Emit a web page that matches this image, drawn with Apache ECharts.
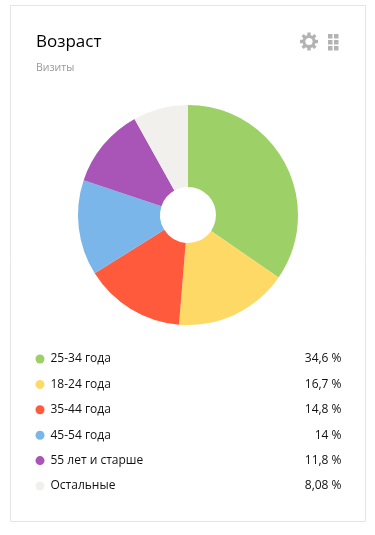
<!DOCTYPE html>
<html>
<head>
<meta charset="utf-8">
<style>html,body{margin:0;padding:0;background:#fff}#c{width:375px;height:535px}</style>
<script src="https://cdn.jsdelivr.net/npm/echarts@6/dist/echarts.min.js"></script>
</head>
<body>
<div id="c"></div>
<script>
const categories = ['25-34 года','18-24 года','35-44 года','45-54 года','55 лет и старше','Остальные'];
const values = [34.6,16.7,14.8,14,11.8,8.08];
const valueLabels = ['34,6 %','16,7 %','14,8 %','14 %','11,8 %','8,08 %'];
const colors = ['#9dd066','#ffd966','#ff5a3c','#7ab6e9','#a955b8','#f1f0ed'];
const titleText = 'Возраст';
const subtitleText = 'Визиты';
const FONT = '"Open Sans", sans-serif';

const chart = echarts.init(document.getElementById('c'), null, {renderer:'canvas'});
const gear = [
  {type:'ring',shape:{cx:309,cy:41.5,r:6.6,r0:3.6},style:{fill:'#b3b3b3'},silent:true}
];
[0,45,90,135].forEach(a=>{
  gear.push({type:'rect',shape:{x:-1.7,y:-9,width:3.4,height:18},x:309,y:41.5,rotation:a*Math.PI/180,style:{fill:'#b3b3b3'},silent:true,z:1});
});
gear.push({type:'circle',shape:{cx:309,cy:41.5,r:3.6},style:{fill:'#fff'},silent:true,z:2});
const grid = [];
[328,334].forEach(x=>[34,40,46].forEach(y=>{
  grid.push({type:'rect',shape:{x:x,y:y,width:4.5,height:4.5},style:{fill:'#b3b3b3'},silent:true});
}));
chart.setOption({
  animation:false,
  title:[
    {text:titleText,left:31,top:29,textStyle:{fontFamily:FONT,fontSize:17,fontWeight:'normal',color:'#000'}},
    {text:subtitleText,left:31,top:58,textStyle:{fontFamily:FONT,fontSize:10.5,fontWeight:'normal',color:'#999'}}
  ],
  legend:{
    orient:'vertical',left:35.5,top:350.5,itemWidth:9,itemHeight:9,itemGap:8.4,padding:0,
    icon:'circle',selectedMode:false,
    data:categories,
    formatter:function(name){
      const i = categories.indexOf(name);
      return '{n|'+name+'}{v|'+valueLabels[i]+'}';
    },
    textStyle:{
      fontFamily:FONT,fontSize:12,color:'#000',
      rich:{
        n:{width:236,padding:[0,0,0,1],fontFamily:FONT,fontSize:12,color:'#111',height:17,lineHeight:17},
        v:{width:55,align:'right',fontFamily:FONT,fontSize:12,color:'#111',height:17,lineHeight:17}
      }
    }
  },
  series:[{
    type:'pie',
    center:[188,215],
    radius:[28,110],
    startAngle:90,
    clockwise:true,
    label:{show:false},
    labelLine:{show:false},
    silent:true,
    data:categories.map((c,i)=>({name:c,value:values[i],itemStyle:{color:colors[i]}}))
  }],
  graphic:[
    {type:'rect',shape:{x:10.5,y:5.5,width:355,height:516},style:{fill:'none',stroke:'#e5e5e5',lineWidth:1},silent:true}
  ].concat(gear,grid)
});
</script>
</body>
</html>
